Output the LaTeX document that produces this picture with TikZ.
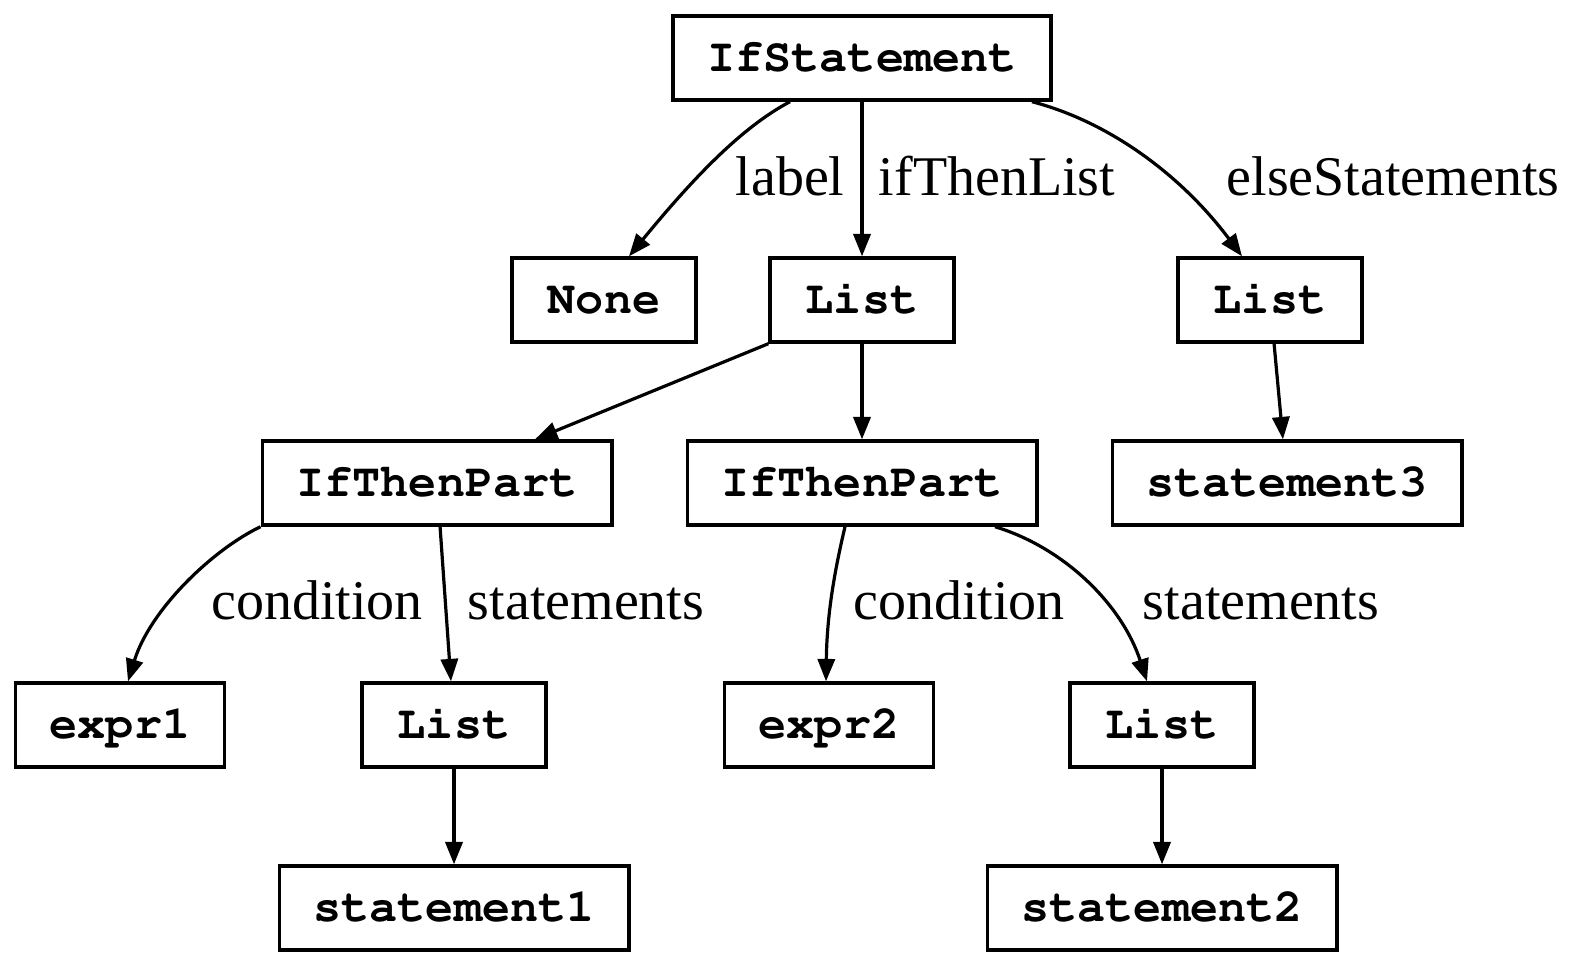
\documentclass[tikz,border=0pt]{standalone}
\usepackage{fontspec}
\setmainfont{Liberation Serif}
\setmonofont{Liberation Mono}
\usepackage{tikz}
\usetikzlibrary{arrows.meta}

\begin{document}
\begin{tikzpicture}[x=.25pt,y=-.25pt]
  \path[use as bounding box] (0,0) rectangle (1583,967);

  \tikzset{
    astNode/.style={
      draw=black,
      line width=.85pt,
      minimum width=46pt,
      minimum height=21pt,
      inner xsep=8.6pt,
      inner ysep=0pt,
      text height=8pt,
      text depth=1.4pt,
      font=\fontencoding{T1}\fontfamily{pcr}\fontseries{b}\fontsize{11.7}{13}\selectfont
    },
    astEdge/.style={
      -{Triangle[length=5.6pt,width=4.3pt]},
      line width=.8pt
    },
    astLabel/.style={
      inner sep=0pt,
      anchor=base,
      font=\fontsize{14}{16}\selectfont
    }
  }

  % rows of the tree
  \node[astNode] (ifStmt) at (862,58) {IfStatement};
  \node[astNode] (none) at (604,300) {None};
  \node[astNode] (thenList) at (862,300) {List};
  \node[astNode] (elseList) at (1270,300) {List};
  \node[astNode] (part1) at (437,483) {IfThenPart};
  \node[astNode] (part2) at (862,483) {IfThenPart};
  \node[astNode] (stmt3) at (1287,483) {statement3};
  \node[astNode] (expr1) at (120,725) {expr1};
  \node[astNode] (list1) at (454,725) {List};
  \node[astNode] (expr2) at (829,725) {expr2};
  \node[astNode] (list2) at (1162,725) {List};
  \node[astNode] (stmt1) at (454,908) {statement1};
  \node[astNode] (stmt2) at (1162,908) {statement2};

  \draw[astEdge] ([xshift=-18pt]ifStmt.south)
    .. controls (740,128) and (690,182) .. ([xshift=6.25pt]none.north);
  \draw[astEdge] (ifStmt) -- (thenList);
  \draw[astEdge] ([xshift=42.5pt]ifStmt.south)
    .. controls (1110,122) and (1182,176) .. ([xshift=-7pt]elseList.north);
  \draw[astEdge] (thenList.south west) -- ([xshift=24.5pt]part1.north);
  \draw[astEdge] (thenList) -- (part2);
  \draw[astEdge] (elseList) -- (stmt3);

  \draw[astEdge] (part1.south west)
    .. controls (212,550) and (150,610) .. ([xshift=2pt]expr1.north);
  \draw[astEdge] (part1) -- (list1);
  \draw[astEdge] (list1) -- (stmt1);
  \draw[astEdge] ([xshift=-4.25pt]part2.south)
    .. controls (836,565) and (827,610) .. ([xshift=-.75pt]expr2.north);
  \draw[astEdge] ([xshift=33.25pt]part2.south)
    .. controls (1065,548) and (1122,605) .. ([xshift=-3.75pt]list2.north);
  \draw[astEdge] (list2) -- (stmt2);

  % edge labels, set on their baselines
  \node[astLabel] (lblLabel) at (790,195) {label};
  \node[astLabel] (lblThen) at (997,195) {ifThenList};
  \node[astLabel] (lblElse) at (1393,195) {elseStatements};
  \node[astLabel] (lblCond1) at (317,619) {condition};
  \node[astLabel] (lblStmts1) at (586,619) {statements};
  \node[astLabel] (lblCond2) at (959,619) {condition};
  \node[astLabel] (lblStmts2) at (1261,619) {statements};
\end{tikzpicture}
\end{document}
